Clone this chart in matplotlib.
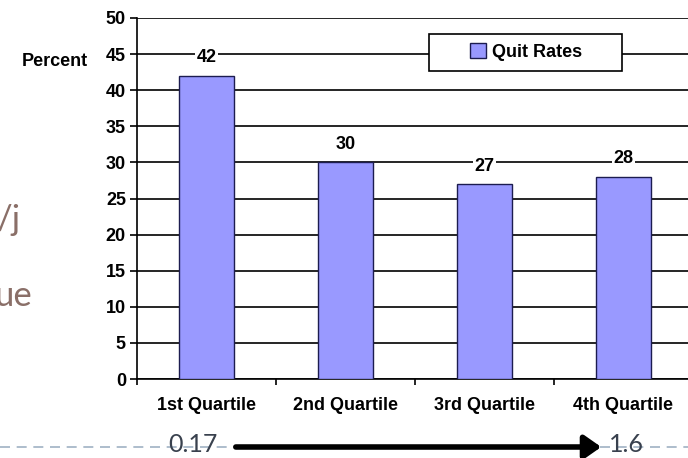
import matplotlib.pyplot as plt
from matplotlib.patches import Rectangle, Patch, FancyArrowPatch
import numpy as np

# data
CATEGORIES = ["1st Quartile", "2nd Quartile", "3rd Quartile", "4th Quartile"]
QUIT_RATES = [42, 30, 27, 28]
SERIES_NAME = "Quit Rates"
Y_TICKS = list(range(0, 55, 5))
LEFT_VALUE = "0.17"
RIGHT_VALUE = "1.6"

BAR_FACE = "#9999ff"
BAR_EDGE = "#1c1c50"
SLIDE_TEXT = "#8a6f68"
NUM_TEXT = "#39414e"
DASH_COLOR = "#a0b2c4"
CHART_FS = 13

W, H = 688, 458
plt.rcParams.update({
    "font.family": ["Liberation Sans", "DejaVu Sans"],
    "font.size": CHART_FS,
})

fig = plt.figure(figsize=(W / 100, H / 100), dpi=100)
fig.patch.set_facecolor("white")


def fx(px):
    return px / W


def fy(py):
    return 1 - py / H


# axes runs off the right edge like the cropped slide
ax = fig.add_axes([fx(137), fy(379), fx(139 * 4), fy(18) - fy(379)])
x = np.arange(len(CATEGORIES))
ax.bar(x, QUIT_RATES, width=0.4, color=BAR_FACE, edgecolor=BAR_EDGE,
       linewidth=1.0, zorder=3)
for xi, v in zip(x, QUIT_RATES):
    ax.text(xi, v + 2.5, str(v), ha="center", va="center", fontsize=CHART_FS,
            fontweight="bold", zorder=4,
            bbox=dict(facecolor="white", edgecolor="none", pad=1.0))

ax.set_xlim(-0.5, len(CATEGORIES) - 0.5)
ax.set_ylim(0, 50)
ax.set_yticks(Y_TICKS)
ax.set_yticklabels([str(t) for t in Y_TICKS], fontweight="bold")
ax.set_xticks(np.arange(len(CATEGORIES) + 1) - 0.5)
ax.set_xticklabels([""] * (len(CATEGORIES) + 1))
ax.set_xticks(x, minor=True)
ax.set_xticklabels(CATEGORIES, minor=True, fontweight="bold")
ax.tick_params(axis="x", which="minor", length=0, pad=13)
ax.tick_params(axis="x", which="major", length=4, width=1.2, direction="out")
ax.tick_params(axis="y", length=5, width=1.2, direction="out", pad=3)
ax.yaxis.grid(True, color="black", linewidth=1.2, zorder=1)
ax.set_axisbelow(True)
for side in ("top", "right"):
    ax.spines[side].set_visible(False)
for side in ("left", "bottom"):
    ax.spines[side].set_linewidth(1.2)

fig.text(fx(55), fy(62), "Percent", ha="center", va="center",
         fontsize=CHART_FS, fontweight="bold")

# legend box
box = Rectangle((fx(429), fy(71)), fx(622 - 429), fy(34) - fy(71),
                transform=fig.transFigure, facecolor="white",
                edgecolor="black", linewidth=1.2, zorder=5)
fig.patches.append(box)
leg = fig.legend(handles=[Patch(facecolor=BAR_FACE, edgecolor=BAR_EDGE,
                                label=SERIES_NAME)],
                 loc="center", bbox_to_anchor=(fx(526), fy(52)),
                 frameon=False, handlelength=0.9, handleheight=0.9,
                 handletextpad=0.3, prop={"weight": "bold", "size": CHART_FS})
leg.set_zorder(6)

# slide leftovers at the left edge
fig.text(fx(-3), fy(220), "/j", ha="left", va="center", fontsize=25,
         family=["Lato", "DejaVu Sans"], color=SLIDE_TEXT)
fig.text(fx(-5), fy(296), "ue", ha="left", va="center", fontsize=25,
         family=["Lato", "DejaVu Sans"], color=SLIDE_TEXT)

# bottom dashed rule with arrow
fig.add_artist(plt.Line2D([0, 1], [fy(447), fy(447)], transform=fig.transFigure,
                          color=DASH_COLOR, linewidth=1.2,
                          dashes=(6, 4), zorder=1))
fig.patches.append(Rectangle((fx(228), fy(450)), fx(370), fy(444) - fy(450),
                             transform=fig.transFigure, color="white", zorder=1.5))
fig.text(fx(193), fy(445), LEFT_VALUE, ha="center", va="center", fontsize=18,
         family=["Lato", "DejaVu Sans"], color=NUM_TEXT)
fig.text(fx(626), fy(445), RIGHT_VALUE, ha="center", va="center", fontsize=18,
         family=["Lato", "DejaVu Sans"], color=NUM_TEXT)
fig.add_artist(FancyArrowPatch(
    (fx(233), fy(447)), (fx(604), fy(447)), transform=fig.transFigure,
    arrowstyle="-|>,head_length=10,head_width=7", mutation_scale=1,
    color="black", linewidth=4, zorder=3))

fig.savefig("out.png", dpi=100)
